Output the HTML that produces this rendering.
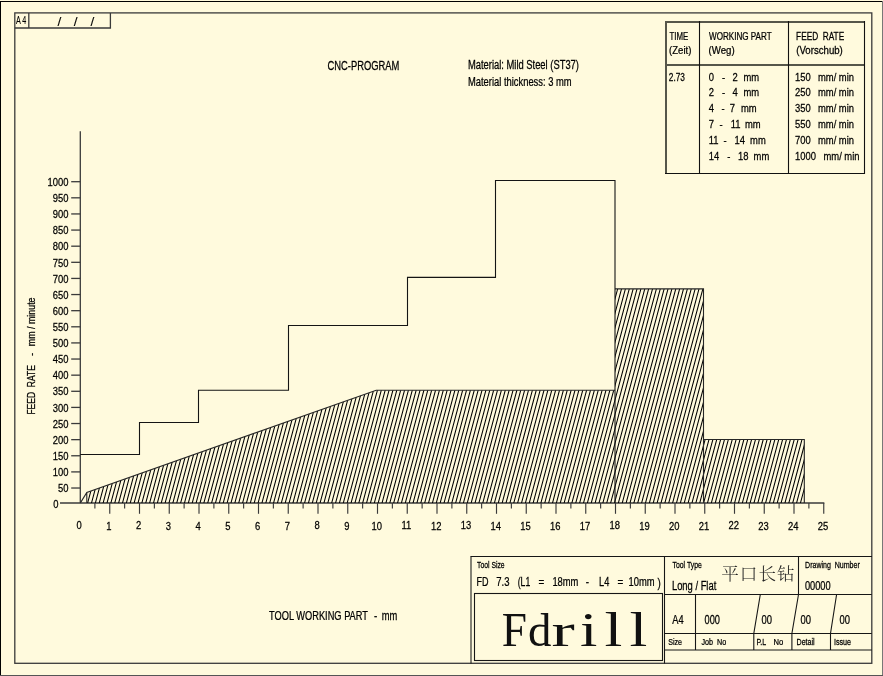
<!DOCTYPE html>
<html><head><meta charset="utf-8"><title>CNC-PROGRAM</title>
<style>html,body{margin:0;padding:0;background:#fffadd;overflow:hidden}svg{display:block}</style>
</head><body>
<svg width="883" height="676" viewBox="0 0 883 676">
<rect x="0" y="0" width="883" height="676" fill="#fffadd"/>
<line x1="0" y1="1.5" x2="883" y2="1.5" stroke="#000" stroke-width="1"/>
<line x1="0.5" y1="1" x2="0.5" y2="676" stroke="#000" stroke-width="1"/>
<line x1="882.5" y1="1" x2="882.5" y2="676" stroke="#777" stroke-width="1"/>
<line x1="0" y1="675.5" x2="883" y2="675.5" stroke="#555" stroke-width="1"/>
<rect x="14.8" y="12.9" width="857" height="650.4" fill="none" stroke="#3a3a3a" stroke-width="1.3"/>
<polyline points="14.8,28 110.4,28 110.4,12.9" fill="none" stroke="#3a3a3a" stroke-width="1.3"/>
<line x1="28.8" y1="12.9" x2="28.8" y2="28" stroke="#3a3a3a" stroke-width="1.3"/>
<line x1="80.3" y1="131.2" x2="80.3" y2="502.9" stroke="#3a3a3a" stroke-width="1.3"/>
<line x1="60" y1="503" x2="824.35" y2="503" stroke="#3a3a3a" stroke-width="1.35"/>
<line x1="71.2" y1="488.02" x2="80.3" y2="488.02" stroke="#3a3a3a" stroke-width="1.3"/>
<line x1="71.2" y1="471.90" x2="80.3" y2="471.90" stroke="#3a3a3a" stroke-width="1.3"/>
<line x1="71.2" y1="455.77" x2="80.3" y2="455.77" stroke="#3a3a3a" stroke-width="1.3"/>
<line x1="71.2" y1="439.65" x2="80.3" y2="439.65" stroke="#3a3a3a" stroke-width="1.3"/>
<line x1="71.2" y1="423.53" x2="80.3" y2="423.53" stroke="#3a3a3a" stroke-width="1.3"/>
<line x1="71.2" y1="407.41" x2="80.3" y2="407.41" stroke="#3a3a3a" stroke-width="1.3"/>
<line x1="71.2" y1="391.29" x2="80.3" y2="391.29" stroke="#3a3a3a" stroke-width="1.3"/>
<line x1="71.2" y1="375.16" x2="80.3" y2="375.16" stroke="#3a3a3a" stroke-width="1.3"/>
<line x1="71.2" y1="359.04" x2="80.3" y2="359.04" stroke="#3a3a3a" stroke-width="1.3"/>
<line x1="71.2" y1="342.92" x2="80.3" y2="342.92" stroke="#3a3a3a" stroke-width="1.3"/>
<line x1="71.2" y1="326.80" x2="80.3" y2="326.80" stroke="#3a3a3a" stroke-width="1.3"/>
<line x1="71.2" y1="310.68" x2="80.3" y2="310.68" stroke="#3a3a3a" stroke-width="1.3"/>
<line x1="71.2" y1="294.55" x2="80.3" y2="294.55" stroke="#3a3a3a" stroke-width="1.3"/>
<line x1="71.2" y1="278.43" x2="80.3" y2="278.43" stroke="#3a3a3a" stroke-width="1.3"/>
<line x1="71.2" y1="262.31" x2="80.3" y2="262.31" stroke="#3a3a3a" stroke-width="1.3"/>
<line x1="71.2" y1="246.19" x2="80.3" y2="246.19" stroke="#3a3a3a" stroke-width="1.3"/>
<line x1="71.2" y1="230.07" x2="80.3" y2="230.07" stroke="#3a3a3a" stroke-width="1.3"/>
<line x1="71.2" y1="213.94" x2="80.3" y2="213.94" stroke="#3a3a3a" stroke-width="1.3"/>
<line x1="71.2" y1="197.82" x2="80.3" y2="197.82" stroke="#3a3a3a" stroke-width="1.3"/>
<line x1="71.2" y1="181.70" x2="80.3" y2="181.70" stroke="#3a3a3a" stroke-width="1.3"/>
<line x1="94.88" y1="503" x2="94.88" y2="508.5" stroke="#3a3a3a" stroke-width="1.15"/>
<line x1="109.75" y1="503" x2="109.75" y2="513.8" stroke="#3a3a3a" stroke-width="1.15"/>
<line x1="124.62" y1="503" x2="124.62" y2="508.5" stroke="#3a3a3a" stroke-width="1.15"/>
<line x1="139.50" y1="503" x2="139.50" y2="513.8" stroke="#3a3a3a" stroke-width="1.15"/>
<line x1="154.38" y1="503" x2="154.38" y2="508.5" stroke="#3a3a3a" stroke-width="1.15"/>
<line x1="169.25" y1="503" x2="169.25" y2="513.8" stroke="#3a3a3a" stroke-width="1.15"/>
<line x1="184.12" y1="503" x2="184.12" y2="508.5" stroke="#3a3a3a" stroke-width="1.15"/>
<line x1="199.00" y1="503" x2="199.00" y2="513.8" stroke="#3a3a3a" stroke-width="1.15"/>
<line x1="213.88" y1="503" x2="213.88" y2="508.5" stroke="#3a3a3a" stroke-width="1.15"/>
<line x1="228.75" y1="503" x2="228.75" y2="513.8" stroke="#3a3a3a" stroke-width="1.15"/>
<line x1="243.62" y1="503" x2="243.62" y2="508.5" stroke="#3a3a3a" stroke-width="1.15"/>
<line x1="258.50" y1="503" x2="258.50" y2="513.8" stroke="#3a3a3a" stroke-width="1.15"/>
<line x1="273.38" y1="503" x2="273.38" y2="508.5" stroke="#3a3a3a" stroke-width="1.15"/>
<line x1="288.25" y1="503" x2="288.25" y2="513.8" stroke="#3a3a3a" stroke-width="1.15"/>
<line x1="303.12" y1="503" x2="303.12" y2="508.5" stroke="#3a3a3a" stroke-width="1.15"/>
<line x1="318.00" y1="503" x2="318.00" y2="513.8" stroke="#3a3a3a" stroke-width="1.15"/>
<line x1="332.88" y1="503" x2="332.88" y2="508.5" stroke="#3a3a3a" stroke-width="1.15"/>
<line x1="347.75" y1="503" x2="347.75" y2="513.8" stroke="#3a3a3a" stroke-width="1.15"/>
<line x1="362.62" y1="503" x2="362.62" y2="508.5" stroke="#3a3a3a" stroke-width="1.15"/>
<line x1="377.50" y1="503" x2="377.50" y2="513.8" stroke="#3a3a3a" stroke-width="1.15"/>
<line x1="392.38" y1="503" x2="392.38" y2="508.5" stroke="#3a3a3a" stroke-width="1.15"/>
<line x1="407.25" y1="503" x2="407.25" y2="513.8" stroke="#3a3a3a" stroke-width="1.15"/>
<line x1="422.12" y1="503" x2="422.12" y2="508.5" stroke="#3a3a3a" stroke-width="1.15"/>
<line x1="437.00" y1="503" x2="437.00" y2="513.8" stroke="#3a3a3a" stroke-width="1.15"/>
<line x1="451.88" y1="503" x2="451.88" y2="508.5" stroke="#3a3a3a" stroke-width="1.15"/>
<line x1="466.75" y1="503" x2="466.75" y2="513.8" stroke="#3a3a3a" stroke-width="1.15"/>
<line x1="481.62" y1="503" x2="481.62" y2="508.5" stroke="#3a3a3a" stroke-width="1.15"/>
<line x1="496.50" y1="503" x2="496.50" y2="513.8" stroke="#3a3a3a" stroke-width="1.15"/>
<line x1="511.38" y1="503" x2="511.38" y2="508.5" stroke="#3a3a3a" stroke-width="1.15"/>
<line x1="526.25" y1="503" x2="526.25" y2="513.8" stroke="#3a3a3a" stroke-width="1.15"/>
<line x1="541.12" y1="503" x2="541.12" y2="508.5" stroke="#3a3a3a" stroke-width="1.15"/>
<line x1="556.00" y1="503" x2="556.00" y2="513.8" stroke="#3a3a3a" stroke-width="1.15"/>
<line x1="570.88" y1="503" x2="570.88" y2="508.5" stroke="#3a3a3a" stroke-width="1.15"/>
<line x1="585.75" y1="503" x2="585.75" y2="513.8" stroke="#3a3a3a" stroke-width="1.15"/>
<line x1="600.62" y1="503" x2="600.62" y2="508.5" stroke="#3a3a3a" stroke-width="1.15"/>
<line x1="615.50" y1="503" x2="615.50" y2="513.8" stroke="#3a3a3a" stroke-width="1.15"/>
<line x1="630.38" y1="503" x2="630.38" y2="508.5" stroke="#3a3a3a" stroke-width="1.15"/>
<line x1="645.25" y1="503" x2="645.25" y2="513.8" stroke="#3a3a3a" stroke-width="1.15"/>
<line x1="660.12" y1="503" x2="660.12" y2="508.5" stroke="#3a3a3a" stroke-width="1.15"/>
<line x1="675.00" y1="503" x2="675.00" y2="513.8" stroke="#3a3a3a" stroke-width="1.15"/>
<line x1="689.88" y1="503" x2="689.88" y2="508.5" stroke="#3a3a3a" stroke-width="1.15"/>
<line x1="704.75" y1="503" x2="704.75" y2="513.8" stroke="#3a3a3a" stroke-width="1.15"/>
<line x1="719.62" y1="503" x2="719.62" y2="508.5" stroke="#3a3a3a" stroke-width="1.15"/>
<line x1="734.50" y1="503" x2="734.50" y2="513.8" stroke="#3a3a3a" stroke-width="1.15"/>
<line x1="749.38" y1="503" x2="749.38" y2="508.5" stroke="#3a3a3a" stroke-width="1.15"/>
<line x1="764.25" y1="503" x2="764.25" y2="513.8" stroke="#3a3a3a" stroke-width="1.15"/>
<line x1="779.12" y1="503" x2="779.12" y2="508.5" stroke="#3a3a3a" stroke-width="1.15"/>
<line x1="794.00" y1="503" x2="794.00" y2="513.8" stroke="#3a3a3a" stroke-width="1.15"/>
<line x1="808.88" y1="503" x2="808.88" y2="508.5" stroke="#3a3a3a" stroke-width="1.15"/>
<line x1="823.75" y1="503" x2="823.75" y2="513.8" stroke="#3a3a3a" stroke-width="1.15"/>
<defs><clipPath id="hc"><polygon points="86.8,502.9 86.8,492.4 376.2,390.3 615,390.3 615,502.9"/><polygon points="615,502.9 615,288.9 703.5,288.9 703.5,502.9"/><polygon points="703.5,502.9 703.5,439.5 804.3,439.5 804.3,502.9"/></clipPath></defs>
<path clip-path="url(#hc)" stroke="#000" stroke-width="1.05" fill="none" d="M25.52 503.5L84.07 285M29.39 503.5L87.95 285M33.26 503.5L91.82 285M37.14 503.5L95.70 285M41.01 503.5L99.57 285M44.89 503.5L103.44 285M48.76 503.5L107.32 285M52.63 503.5L111.19 285M56.51 503.5L115.07 285M60.38 503.5L118.94 285M64.26 503.5L122.81 285M68.13 503.5L126.69 285M72.00 503.5L130.56 285M75.88 503.5L134.44 285M79.75 503.5L138.31 285M83.63 503.5L142.18 285M87.50 503.5L146.06 285M91.37 503.5L149.93 285M95.25 503.5L153.81 285M99.12 503.5L157.68 285M103.00 503.5L161.55 285M106.87 503.5L165.43 285M110.74 503.5L169.30 285M114.62 503.5L173.18 285M118.49 503.5L177.05 285M122.37 503.5L180.92 285M126.24 503.5L184.80 285M130.11 503.5L188.67 285M133.99 503.5L192.55 285M137.86 503.5L196.42 285M141.74 503.5L200.29 285M145.61 503.5L204.17 285M149.48 503.5L208.04 285M153.36 503.5L211.92 285M157.23 503.5L215.79 285M161.11 503.5L219.66 285M164.98 503.5L223.54 285M168.85 503.5L227.41 285M172.73 503.5L231.29 285M176.60 503.5L235.16 285M180.48 503.5L239.03 285M184.35 503.5L242.91 285M188.22 503.5L246.78 285M192.10 503.5L250.66 285M195.97 503.5L254.53 285M199.85 503.5L258.40 285M203.72 503.5L262.28 285M207.59 503.5L266.15 285M211.47 503.5L270.03 285M215.34 503.5L273.90 285M219.22 503.5L277.77 285M223.09 503.5L281.65 285M226.96 503.5L285.52 285M230.84 503.5L289.40 285M234.71 503.5L293.27 285M238.59 503.5L297.14 285M242.46 503.5L301.02 285M246.33 503.5L304.89 285M250.21 503.5L308.77 285M254.08 503.5L312.64 285M257.96 503.5L316.51 285M261.83 503.5L320.39 285M265.70 503.5L324.26 285M269.58 503.5L328.14 285M273.45 503.5L332.01 285M277.33 503.5L335.88 285M281.20 503.5L339.76 285M285.07 503.5L343.63 285M288.95 503.5L347.51 285M292.82 503.5L351.38 285M296.70 503.5L355.25 285M300.57 503.5L359.13 285M304.44 503.5L363.00 285M308.32 503.5L366.88 285M312.19 503.5L370.75 285M316.07 503.5L374.62 285M319.94 503.5L378.50 285M323.81 503.5L382.37 285M327.69 503.5L386.25 285M331.56 503.5L390.12 285M335.44 503.5L393.99 285M339.31 503.5L397.87 285M343.18 503.5L401.74 285M347.06 503.5L405.62 285M350.93 503.5L409.49 285M354.81 503.5L413.36 285M358.68 503.5L417.24 285M362.55 503.5L421.11 285M366.43 503.5L424.99 285M370.30 503.5L428.86 285M374.18 503.5L432.73 285M378.05 503.5L436.61 285M381.92 503.5L440.48 285M385.80 503.5L444.36 285M389.67 503.5L448.23 285M393.55 503.5L452.10 285M397.42 503.5L455.98 285M401.29 503.5L459.85 285M405.17 503.5L463.73 285M409.04 503.5L467.60 285M412.92 503.5L471.47 285M416.79 503.5L475.35 285M420.66 503.5L479.22 285M424.54 503.5L483.10 285M428.41 503.5L486.97 285M432.29 503.5L490.84 285M436.16 503.5L494.72 285M440.03 503.5L498.59 285M443.91 503.5L502.47 285M447.78 503.5L506.34 285M451.66 503.5L510.21 285M455.53 503.5L514.09 285M459.40 503.5L517.96 285M463.28 503.5L521.84 285M467.15 503.5L525.71 285M471.03 503.5L529.58 285M474.90 503.5L533.46 285M478.77 503.5L537.33 285M482.65 503.5L541.21 285M486.52 503.5L545.08 285M490.40 503.5L548.95 285M494.27 503.5L552.83 285M498.14 503.5L556.70 285M502.02 503.5L560.58 285M505.89 503.5L564.45 285M509.77 503.5L568.32 285M513.64 503.5L572.20 285M517.51 503.5L576.07 285M521.39 503.5L579.95 285M525.26 503.5L583.82 285M529.14 503.5L587.69 285M533.01 503.5L591.57 285M536.88 503.5L595.44 285M540.76 503.5L599.32 285M544.63 503.5L603.19 285M548.51 503.5L607.06 285M552.38 503.5L610.94 285M556.25 503.5L614.81 285M560.13 503.5L618.69 285M564.00 503.5L622.56 285M567.88 503.5L626.43 285M571.75 503.5L630.31 285M575.62 503.5L634.18 285M579.50 503.5L638.06 285M583.37 503.5L641.93 285M587.25 503.5L645.80 285M591.12 503.5L649.68 285M594.99 503.5L653.55 285M598.87 503.5L657.43 285M602.74 503.5L661.30 285M606.62 503.5L665.17 285M610.49 503.5L669.05 285M614.36 503.5L672.92 285M618.24 503.5L676.80 285M622.11 503.5L680.67 285M625.99 503.5L684.54 285M629.86 503.5L688.42 285M633.73 503.5L692.29 285M637.61 503.5L696.17 285M641.48 503.5L700.04 285M645.36 503.5L703.91 285M649.23 503.5L707.79 285M653.10 503.5L711.66 285M656.98 503.5L715.54 285M660.85 503.5L719.41 285M664.73 503.5L723.28 285M668.60 503.5L727.16 285M672.47 503.5L731.03 285M676.35 503.5L734.91 285M680.22 503.5L738.78 285M684.10 503.5L742.65 285M687.97 503.5L746.53 285M691.84 503.5L750.40 285M695.72 503.5L754.28 285M699.59 503.5L758.15 285M703.47 503.5L762.02 285M707.34 503.5L765.90 285M711.21 503.5L769.77 285M715.09 503.5L773.65 285M718.96 503.5L777.52 285M722.84 503.5L781.39 285M726.71 503.5L785.27 285M730.58 503.5L789.14 285M734.46 503.5L793.02 285M738.33 503.5L796.89 285M742.21 503.5L800.76 285M746.08 503.5L804.64 285M749.95 503.5L808.51 285M753.83 503.5L812.39 285M757.70 503.5L816.26 285M761.58 503.5L820.13 285M765.45 503.5L824.01 285M769.32 503.5L827.88 285M773.20 503.5L831.76 285M777.07 503.5L835.63 285M780.95 503.5L839.50 285M784.82 503.5L843.38 285M788.69 503.5L847.25 285M792.57 503.5L851.13 285M796.44 503.5L855.00 285M800.32 503.5L858.87 285M804.19 503.5L862.75 285M808.06 503.5L866.62 285"/>
<path d="M80.4 502.9L86.8 492.4L376.2 390.3L615 390.3M86.8 492.4L86.8 502.9M615 288.9L703.5 288.9L703.5 502.9M703.5 439.5L804.3 439.5L804.3 502.9" fill="none" stroke="#262626" stroke-width="1.1"/>
<polyline points="80.3,454.5 139.5,454.5 139.5,422.5 198.5,422.5 198.5,390.3 288.5,390.3 288.5,325.5 407.5,325.5 407.5,277.4 495.5,277.4 495.5,180.5 615,180.5 615,502.9" fill="none" stroke="#141414" stroke-width="1.1"/>
<line x1="665" y1="22" x2="865" y2="22" stroke="#56564a" stroke-width="2"/>
<line x1="666" y1="21" x2="666" y2="174" stroke="#56564a" stroke-width="2"/>
<line x1="665" y1="65" x2="865" y2="65" stroke="#56564a" stroke-width="2"/>
<line x1="864.5" y1="21" x2="864.5" y2="174" stroke="#111" stroke-width="1.1"/>
<line x1="665" y1="173.5" x2="865" y2="173.5" stroke="#111" stroke-width="1.1"/>
<line x1="699.5" y1="21" x2="699.5" y2="173.5" stroke="#111" stroke-width="1.1"/>
<line x1="788.5" y1="21" x2="788.5" y2="173.5" stroke="#111" stroke-width="1.1"/>
<line x1="471" y1="556.5" x2="471" y2="663.5" stroke="#161616" stroke-width="1.05"/>
<line x1="470.5" y1="556.5" x2="872" y2="556.5" stroke="#161616" stroke-width="1.1"/>
<rect x="474.5" y="593.5" width="188" height="67" fill="none" stroke="#161616" stroke-width="1.1"/>
<line x1="664.5" y1="556.5" x2="664.5" y2="663.5" stroke="#161616" stroke-width="1.1"/>
<line x1="798.5" y1="556.5" x2="798.5" y2="594.5" stroke="#161616" stroke-width="1.1"/>
<line x1="664.5" y1="594.5" x2="871.8" y2="594.5" stroke="#161616" stroke-width="1.1"/>
<line x1="664.5" y1="633.5" x2="871.8" y2="633.5" stroke="#161616" stroke-width="1.1"/>
<line x1="664.5" y1="650.0" x2="871.8" y2="650.0" stroke="#161616" stroke-width="1.1"/>
<line x1="695.5" y1="594.5" x2="695.5" y2="650" stroke="#161616" stroke-width="1.1"/>
<polyline points="760.3,594.5 753.8,633.5 753.8,650" fill="none" stroke="#161616" stroke-width="1.1"/>
<polyline points="798.5,594.5 791.9,633.5 791.9,650" fill="none" stroke="#161616" stroke-width="1.1"/>
<polyline points="836.6,594.5 830.5,633.5 830.5,650" fill="none" stroke="#161616" stroke-width="1.1"/>
<g fill="#000" font-family="'Liberation Sans', Arial, sans-serif" stroke="#000" stroke-width="0.25">
<text x="57.5 73.8 90.4" y="26" font-size="13.6" stroke-width="0.1">///</text>
<text transform="translate(327.51,69.80) scale(0.7824,1)" font-size="12" text-anchor="start" >CNC-PROGRAM</text>
<text transform="translate(467.91,68.90) scale(0.7822,1)" font-size="12" text-anchor="start" >Material: Mild Steel (ST37)</text>
<text transform="translate(467.91,85.60) scale(0.7825,1)" font-size="12" text-anchor="start" >Material thickness: 3 mm</text>
<text transform="translate(669.40,39.70) scale(0.7629,1)" font-size="10.3" text-anchor="start" >TIME</text>
<text transform="translate(669.03,54.40) scale(0.9304,1)" font-size="10.3" text-anchor="start" >(Zeit)</text>
<text transform="translate(668.80,80.50) scale(0.8052,1)" font-size="10.3" text-anchor="start" >2.73</text>
<text transform="translate(709.00,39.70) scale(0.7862,1)" font-size="10.3" text-anchor="start" >WORKING PART</text>
<text transform="translate(708.53,54.40) scale(0.9383,1)" font-size="10.3" text-anchor="start" >(Weg)</text>
<text transform="translate(796.10,39.70) scale(0.8034,1)" font-size="10.3" text-anchor="start" >FEED&#160;&#160;RATE</text>
<text transform="translate(796.23,54.40) scale(0.9354,1)" font-size="10.3" text-anchor="start" >(Vorschub)</text>
<text transform="translate(269.11,619.90) scale(0.7718,1)" font-size="12" text-anchor="start" >TOOL WORKING PART</text>
<text transform="translate(373.91,619.90) scale(0.8200,1)" font-size="12" text-anchor="start" >-</text>
<text transform="translate(381.72,619.90) scale(0.7784,1)" font-size="12" text-anchor="start" >mm</text>
<text transform="translate(477.00,567.70) scale(0.7746,1)" font-size="8.8" text-anchor="start" >Tool Size</text>
<text transform="translate(476.44,585.60) scale(0.7525,1)" font-size="12" text-anchor="start" >FD</text>
<text transform="translate(496.20,585.60) scale(0.7937,1)" font-size="12" text-anchor="start" >7.3</text>
<text transform="translate(517.74,585.60) scale(0.7212,1)" font-size="12" text-anchor="start" >(L1</text>
<text transform="translate(538.58,585.60) scale(0.8200,1)" font-size="12" text-anchor="start" >=</text>
<text transform="translate(552.41,585.60) scale(0.7812,1)" font-size="12" text-anchor="start" >18mm</text>
<text transform="translate(585.86,585.60) scale(0.8200,1)" font-size="12" text-anchor="start" >-</text>
<text transform="translate(599.02,585.60) scale(0.7680,1)" font-size="12" text-anchor="start" >L4</text>
<text transform="translate(617.53,585.60) scale(0.8200,1)" font-size="12" text-anchor="start" >=</text>
<text transform="translate(628.51,585.60) scale(0.7812,1)" font-size="12" text-anchor="start" >10mm</text>
<text transform="translate(657.57,587.00) scale(0.8200,1)" font-size="12" text-anchor="start" >)</text>
<text transform="translate(672.50,567.60) scale(0.7839,1)" font-size="8.8" text-anchor="start" >Tool Type</text>
<text transform="translate(671.91,589.70) scale(0.7839,1)" font-size="12" text-anchor="start" >Long / Flat</text>
<text transform="translate(805.10,567.70) scale(0.8000,1)" font-size="8.8" text-anchor="start" >Drawing&#160;&#160;Number</text>
<text transform="translate(804.91,589.70) scale(0.7725,1)" font-size="12" text-anchor="start" >00000</text>
<text transform="translate(672.20,623.70) scale(0.7724,1)" font-size="12" text-anchor="start" >A4</text>
<text transform="translate(704.61,623.70) scale(0.7692,1)" font-size="12" text-anchor="start" >000</text>
<text transform="translate(761.50,623.70) scale(0.7843,1)" font-size="12" text-anchor="start" >00</text>
<text transform="translate(800.50,623.70) scale(0.7843,1)" font-size="12" text-anchor="start" >00</text>
<text transform="translate(839.50,623.70) scale(0.7843,1)" font-size="12" text-anchor="start" >00</text>
<text transform="translate(668.20,644.80) scale(0.8061,1)" font-size="8.8" text-anchor="start" >Size</text>
<text transform="translate(701.50,644.80) scale(0.8133,1)" font-size="8.8" text-anchor="start" >Job&#160;&#160;No</text>
<text transform="translate(756.40,644.80) scale(0.8000,1)" font-size="8.8" text-anchor="start" >P.L</text>
<text transform="translate(773.47,644.80) scale(0.8667,1)" font-size="8.8" text-anchor="start" >No</text>
<text transform="translate(796.50,644.80) scale(0.8093,1)" font-size="8.8" text-anchor="start" >Detail</text>
<text transform="translate(833.89,644.80) scale(0.8150,1)" font-size="8.8" text-anchor="start" >Issue</text>
<text transform="translate(15.9,23.9) scale(0.72,1)" font-size="10" letter-spacing="2.2" stroke-width="0.1">A4</text>
<text transform="translate(35.0,414.62) rotate(-90) scale(0.8272,1)" font-size="10.3">FEED&#160;&#160;RATE</text>
<text transform="translate(35.0,355.81) rotate(-90) scale(0.8200,1)" font-size="10.3">-</text>
<text transform="translate(35.0,346.23) rotate(-90) scale(0.8610,1)" font-size="10.3">mm / minute</text>
<text transform="translate(53.30,507.60) scale(0.8200,1)" font-size="11.5" text-anchor="start" >0</text>
<text transform="translate(708.80,80.80) scale(0.8200,1)" font-size="11.5" text-anchor="start" >0</text>
<text transform="translate(722.00,80.80) scale(0.8200,1)" font-size="11.5" text-anchor="start" >-</text>
<text transform="translate(732.40,80.80) scale(0.8200,1)" font-size="11.5" text-anchor="start" >2</text>
<text transform="translate(743.40,80.80) scale(0.8200,1)" font-size="11.5" text-anchor="start" >mm</text>
<text transform="translate(795.00,80.80) scale(0.8200,1)" font-size="11.5" text-anchor="start" >150</text>
<text transform="translate(818.00,80.80) scale(0.8200,1)" font-size="11.5" text-anchor="start" >mm/</text>
<text transform="translate(838.80,80.80) scale(0.8200,1)" font-size="11.5" text-anchor="start" >min</text>
<text transform="translate(708.80,96.10) scale(0.8200,1)" font-size="11.5" text-anchor="start" >2</text>
<text transform="translate(722.00,96.10) scale(0.8200,1)" font-size="11.5" text-anchor="start" >-</text>
<text transform="translate(732.40,96.10) scale(0.8200,1)" font-size="11.5" text-anchor="start" >4</text>
<text transform="translate(743.40,96.10) scale(0.8200,1)" font-size="11.5" text-anchor="start" >mm</text>
<text transform="translate(795.00,96.10) scale(0.8200,1)" font-size="11.5" text-anchor="start" >250</text>
<text transform="translate(818.00,96.10) scale(0.8200,1)" font-size="11.5" text-anchor="start" >mm/</text>
<text transform="translate(838.80,96.10) scale(0.8200,1)" font-size="11.5" text-anchor="start" >min</text>
<text transform="translate(708.80,111.80) scale(0.8200,1)" font-size="11.5" text-anchor="start" >4</text>
<text transform="translate(721.60,111.80) scale(0.8200,1)" font-size="11.5" text-anchor="start" >-</text>
<text transform="translate(729.70,111.80) scale(0.8200,1)" font-size="11.5" text-anchor="start" >7</text>
<text transform="translate(741.00,111.80) scale(0.8200,1)" font-size="11.5" text-anchor="start" >mm</text>
<text transform="translate(795.00,111.80) scale(0.8200,1)" font-size="11.5" text-anchor="start" >350</text>
<text transform="translate(818.00,111.80) scale(0.8200,1)" font-size="11.5" text-anchor="start" >mm/</text>
<text transform="translate(838.80,111.80) scale(0.8200,1)" font-size="11.5" text-anchor="start" >min</text>
<text transform="translate(708.80,127.70) scale(0.8200,1)" font-size="11.5" text-anchor="start" >7</text>
<text transform="translate(719.60,127.70) scale(0.8200,1)" font-size="11.5" text-anchor="start" >-</text>
<text transform="translate(730.80,127.70) scale(0.8200,1)" font-size="11.5" text-anchor="start" >11</text>
<text transform="translate(745.00,127.70) scale(0.8200,1)" font-size="11.5" text-anchor="start" >mm</text>
<text transform="translate(795.00,127.70) scale(0.8200,1)" font-size="11.5" text-anchor="start" >550</text>
<text transform="translate(818.00,127.70) scale(0.8200,1)" font-size="11.5" text-anchor="start" >mm/</text>
<text transform="translate(838.80,127.70) scale(0.8200,1)" font-size="11.5" text-anchor="start" >min</text>
<text transform="translate(708.80,143.60) scale(0.8200,1)" font-size="11.5" text-anchor="start" >11</text>
<text transform="translate(723.60,143.60) scale(0.8200,1)" font-size="11.5" text-anchor="start" >-</text>
<text transform="translate(734.40,143.60) scale(0.8200,1)" font-size="11.5" text-anchor="start" >14</text>
<text transform="translate(750.10,143.60) scale(0.8200,1)" font-size="11.5" text-anchor="start" >mm</text>
<text transform="translate(795.00,143.60) scale(0.8200,1)" font-size="11.5" text-anchor="start" >700</text>
<text transform="translate(818.00,143.60) scale(0.8200,1)" font-size="11.5" text-anchor="start" >mm/</text>
<text transform="translate(838.80,143.60) scale(0.8200,1)" font-size="11.5" text-anchor="start" >min</text>
<text transform="translate(708.80,159.50) scale(0.8200,1)" font-size="11.5" text-anchor="start" >14</text>
<text transform="translate(727.30,159.50) scale(0.8200,1)" font-size="11.5" text-anchor="start" >-</text>
<text transform="translate(737.90,159.50) scale(0.8200,1)" font-size="11.5" text-anchor="start" >18</text>
<text transform="translate(753.60,159.50) scale(0.8200,1)" font-size="11.5" text-anchor="start" >mm</text>
<text transform="translate(795.00,159.50) scale(0.8200,1)" font-size="11.5" text-anchor="start" >1000</text>
<text transform="translate(823.50,159.50) scale(0.8200,1)" font-size="11.5" text-anchor="start" >mm/</text>
<text transform="translate(844.30,159.50) scale(0.8200,1)" font-size="11.5" text-anchor="start" >min</text>
<text transform="translate(68.50,492.22) scale(0.8200,1)" font-size="11.5" text-anchor="end" >50</text>
<text transform="translate(68.50,476.10) scale(0.8200,1)" font-size="11.5" text-anchor="end" >100</text>
<text transform="translate(68.50,459.97) scale(0.8200,1)" font-size="11.5" text-anchor="end" >150</text>
<text transform="translate(68.50,443.85) scale(0.8200,1)" font-size="11.5" text-anchor="end" >200</text>
<text transform="translate(68.50,427.73) scale(0.8200,1)" font-size="11.5" text-anchor="end" >250</text>
<text transform="translate(68.50,411.61) scale(0.8200,1)" font-size="11.5" text-anchor="end" >300</text>
<text transform="translate(68.50,395.49) scale(0.8200,1)" font-size="11.5" text-anchor="end" >350</text>
<text transform="translate(68.50,379.36) scale(0.8200,1)" font-size="11.5" text-anchor="end" >400</text>
<text transform="translate(68.50,363.24) scale(0.8200,1)" font-size="11.5" text-anchor="end" >450</text>
<text transform="translate(68.50,347.12) scale(0.8200,1)" font-size="11.5" text-anchor="end" >500</text>
<text transform="translate(68.50,331.00) scale(0.8200,1)" font-size="11.5" text-anchor="end" >550</text>
<text transform="translate(68.50,314.88) scale(0.8200,1)" font-size="11.5" text-anchor="end" >600</text>
<text transform="translate(68.50,298.75) scale(0.8200,1)" font-size="11.5" text-anchor="end" >650</text>
<text transform="translate(68.50,282.63) scale(0.8200,1)" font-size="11.5" text-anchor="end" >700</text>
<text transform="translate(68.50,266.51) scale(0.8200,1)" font-size="11.5" text-anchor="end" >750</text>
<text transform="translate(68.50,250.39) scale(0.8200,1)" font-size="11.5" text-anchor="end" >800</text>
<text transform="translate(68.50,234.27) scale(0.8200,1)" font-size="11.5" text-anchor="end" >850</text>
<text transform="translate(68.50,218.14) scale(0.8200,1)" font-size="11.5" text-anchor="end" >900</text>
<text transform="translate(68.50,202.02) scale(0.8200,1)" font-size="11.5" text-anchor="end" >950</text>
<text transform="translate(68.50,185.90) scale(0.8200,1)" font-size="11.5" text-anchor="end" >1000</text>
<text transform="translate(79.20,528.60) scale(0.8200,1)" font-size="11.5" text-anchor="middle" >0</text>
<text transform="translate(108.95,529.50) scale(0.8200,1)" font-size="11.5" text-anchor="middle" >1</text>
<text transform="translate(138.70,528.60) scale(0.8200,1)" font-size="11.5" text-anchor="middle" >2</text>
<text transform="translate(168.45,529.50) scale(0.8200,1)" font-size="11.5" text-anchor="middle" >3</text>
<text transform="translate(198.20,529.50) scale(0.8200,1)" font-size="11.5" text-anchor="middle" >4</text>
<text transform="translate(227.95,529.50) scale(0.8200,1)" font-size="11.5" text-anchor="middle" >5</text>
<text transform="translate(257.70,529.50) scale(0.8200,1)" font-size="11.5" text-anchor="middle" >6</text>
<text transform="translate(287.45,529.50) scale(0.8200,1)" font-size="11.5" text-anchor="middle" >7</text>
<text transform="translate(317.20,528.60) scale(0.8200,1)" font-size="11.5" text-anchor="middle" >8</text>
<text transform="translate(346.95,529.50) scale(0.8200,1)" font-size="11.5" text-anchor="middle" >9</text>
<text transform="translate(376.70,529.50) scale(0.8200,1)" font-size="11.5" text-anchor="middle" >10</text>
<text transform="translate(406.45,528.60) scale(0.8200,1)" font-size="11.5" text-anchor="middle" >11</text>
<text transform="translate(436.20,529.50) scale(0.8200,1)" font-size="11.5" text-anchor="middle" >12</text>
<text transform="translate(465.95,528.60) scale(0.8200,1)" font-size="11.5" text-anchor="middle" >13</text>
<text transform="translate(495.70,529.50) scale(0.8200,1)" font-size="11.5" text-anchor="middle" >14</text>
<text transform="translate(525.45,529.50) scale(0.8200,1)" font-size="11.5" text-anchor="middle" >15</text>
<text transform="translate(555.20,529.50) scale(0.8200,1)" font-size="11.5" text-anchor="middle" >16</text>
<text transform="translate(584.95,529.50) scale(0.8200,1)" font-size="11.5" text-anchor="middle" >17</text>
<text transform="translate(614.70,528.60) scale(0.8200,1)" font-size="11.5" text-anchor="middle" >18</text>
<text transform="translate(644.45,529.50) scale(0.8200,1)" font-size="11.5" text-anchor="middle" >19</text>
<text transform="translate(674.20,529.50) scale(0.8200,1)" font-size="11.5" text-anchor="middle" >20</text>
<text transform="translate(703.95,529.50) scale(0.8200,1)" font-size="11.5" text-anchor="middle" >21</text>
<text transform="translate(733.70,528.60) scale(0.8200,1)" font-size="11.5" text-anchor="middle" >22</text>
<text transform="translate(763.45,529.50) scale(0.8200,1)" font-size="11.5" text-anchor="middle" >23</text>
<text transform="translate(793.20,529.50) scale(0.8200,1)" font-size="11.5" text-anchor="middle" >24</text>
<text transform="translate(822.95,529.50) scale(0.8200,1)" font-size="11.5" text-anchor="middle" >25</text>
<g stroke="none" fill="#111" font-family="'Liberation Serif', serif"><text transform="translate(501.64,645.8) scale(0.936,1)" font-size="48.40">F</text><text transform="translate(528.06,645.8) scale(0.992,1)" font-size="47.19">d</text><text transform="translate(551.40,645.8) scale(1.479,1)" font-size="47.23">r</text><text transform="translate(580.05,645.8) scale(1.281,1)" font-size="48.79">i</text><text transform="translate(604.52,645.8) scale(1.347,1)" font-size="47.63">l</text><text transform="translate(629.42,645.8) scale(1.347,1)" font-size="47.63">l</text></g>
<text x="721.2" y="579.6" font-size="17.6" letter-spacing="1.0" font-weight="300" stroke="none" font-family="'Liberation Serif', 'Noto Serif CJK SC', serif" fill="#222">平口长钻</text>
</g>
</svg>
</body></html>
